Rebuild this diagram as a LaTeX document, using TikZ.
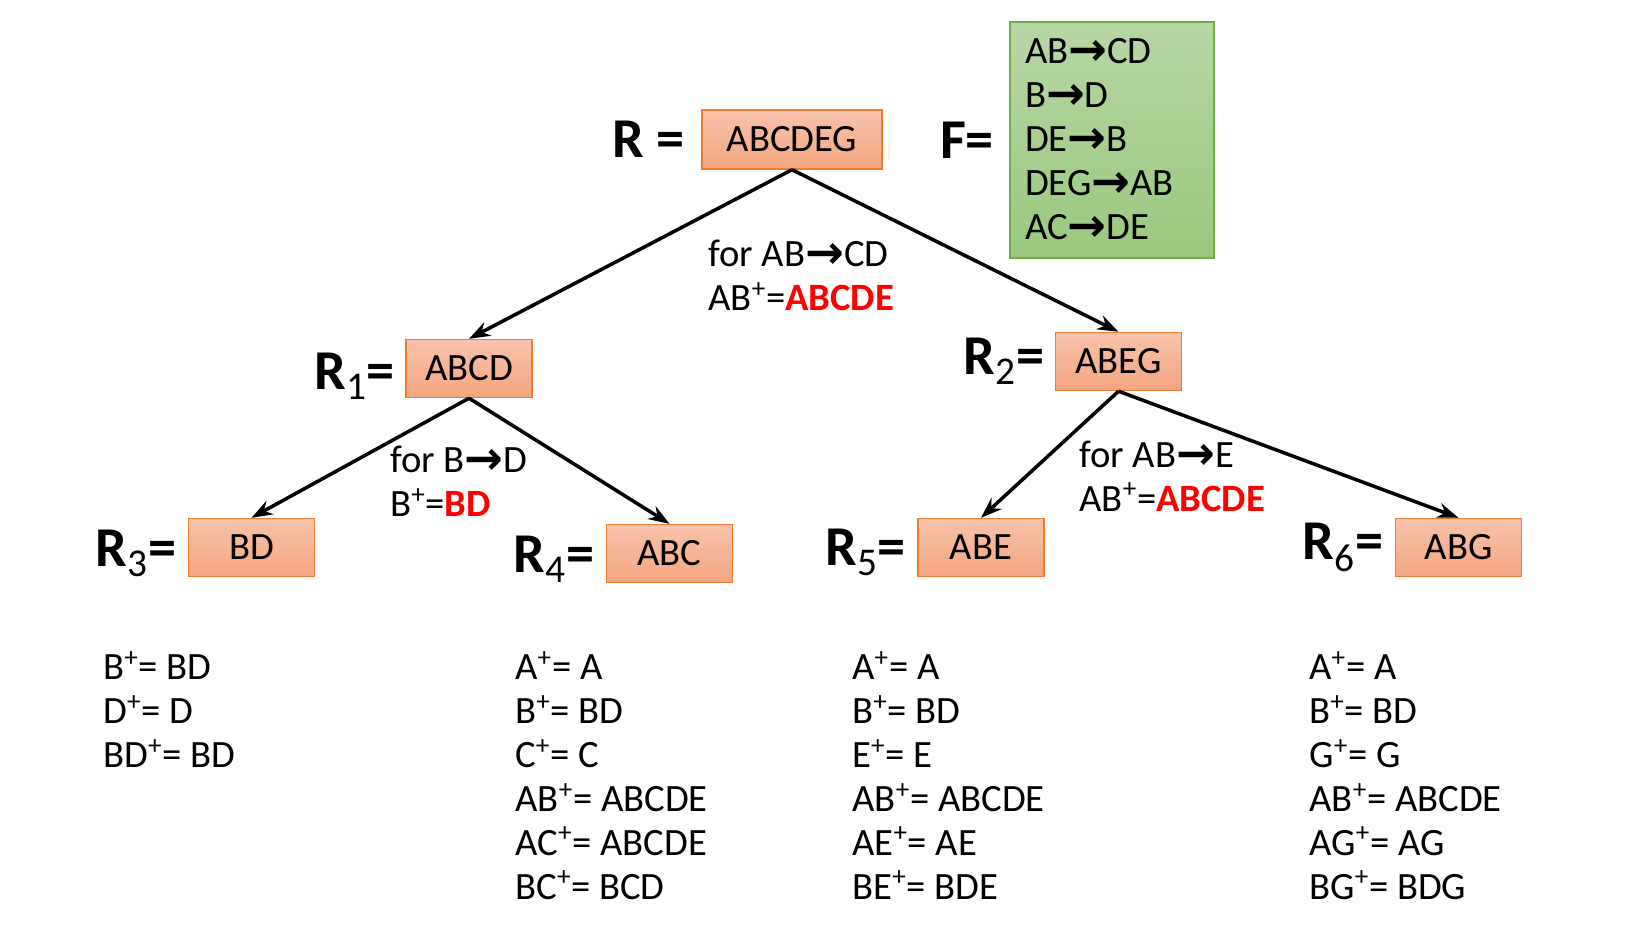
\documentclass[tikz,border=0pt]{standalone}
\usepackage{fontspec}
\setmainfont{Carlito}
\newfontfamily\arrowfont{DejaVu Sans}
\usepackage{xcolor}
\usepackage{graphicx}
\usepackage{tikz}
\usetikzlibrary{arrows.meta,positioning}
\definecolor{relTop}{RGB}{248,195,172}
\definecolor{relBot}{RGB}{244,165,128}
\definecolor{relLine}{RGB}{237,125,49}
\definecolor{fdTop}{RGB}{183,215,166}
\definecolor{fdBot}{RGB}{155,200,125}
\definecolor{fdLine}{RGB}{112,173,71}
\newcommand{\fdto}{\raisebox{-0.1ex}{\scalebox{1.2}{\arrowfont\bfseries →}}}
\newcommand{\clsr}[1]{#1\textsuperscript{+}}
\newcommand{\hit}[1]{\textcolor{red}{\bfseries #1}}

\begin{document}
\begin{tikzpicture}[
    rel/.style={draw=relLine, line width=0.8pt, top color=relTop, bottom color=relBot, minimum width=2.52cm, minimum height=1.16cm, inner sep=0pt, font=\fontsize{22}{25}\selectfont},
    fdbox/.style={draw=fdLine, line width=0.8pt, top color=fdTop, bottom color=fdBot, text width=3.48cm, minimum height=4.72cm, inner xsep=0.3cm, inner ysep=0pt, align=left, font=\fontsize{22}{25}\selectfont},
    rlabel/.style={font=\fontsize{32}{36}\selectfont\bfseries, inner sep=0pt},
    reason/.style={font=\fontsize{22}{25}\selectfont, align=left, inner sep=0pt, anchor=west},
    closures/.style={font=\fontsize{22}{25}\selectfont, align=left, inner sep=0pt, anchor=north west},
    decomp/.style={-{Stealth[length=0.42cm,width=0.3cm]}, line width=2pt}
]
\useasboundingbox (0,0) rectangle (32.86,-18.6);
\node[rel, minimum width=3.6cm, minimum height=1.18cm] (r) at (15.84,-2.79) {ABCDEG};
\node[rlabel, left=0.32cm of r] (rname) {R =};
\node[fdbox] (f) at (22.24,-2.8) {AB\fdto CD\\B\fdto D\\DE\fdto B\\DEG\fdto AB\\AC\fdto DE};
\node[rlabel, left=0.3cm of f] (fname) {F=};
\node[rel] (r1) at (9.38,-7.37) {ABCD};
\node[rel] (r2) at (22.37,-7.23) {ABEG};
\node[rel] (r3) at (5.03,-10.95) {BD};
\node[rel] (r4) at (13.39,-11.07) {ABC};
\node[rel] (r5) at (19.62,-10.95) {ABE};
\node[rel] (r6) at (29.17,-10.95) {ABG};
\node[rlabel, left=0.2cm of r1, yshift=-0.15cm] (r1name) {R\textsubscript{\mdseries 1}=};
\node[rlabel, left=0.2cm of r2] (r2name) {R\textsubscript{\mdseries 2}=};
\node[rlabel, left=0.22cm of r3, yshift=-0.12cm] (r3name) {R\textsubscript{\mdseries 3}=};
\node[rlabel, left=0.22cm of r4, yshift=-0.12cm] (r4name) {R\textsubscript{\mdseries 4}=};
\node[rlabel, left=0.22cm of r5, yshift=-0.1cm] (r5name) {R\textsubscript{\mdseries 5}=};
\node[rlabel, left=0.22cm of r6] (r6name) {R\textsubscript{\mdseries 6}=};
\draw[decomp] (r.south) -- (r1.north);
\draw[decomp] (r.south) -- (r2.north);
\draw[decomp] (r1.south) -- (r3.north);
\draw[decomp] (r1.south) -- (r4.north);
\draw[decomp] (r2.south) -- (r5.north);
\draw[decomp] (r2.south) -- (r6.north);
\node[reason] (why0) at (14.16,-5.51) {for AB\fdto CD\\\clsr{AB}=\hit{ABCDE}};
\node[reason] (why1) at (7.8,-9.63) {for B\fdto D\\\clsr{B}=\hit{BD}};
\node[reason] (why2) at (21.58,-9.52) {for AB\fdto E\\\clsr{AB}=\hit{ABCDE}};
\node[closures] (c3) at (2.06,-13.02) {\clsr{B}= BD\\\clsr{D}= D\\\clsr{BD}= BD};
\node[closures] (c4) at (10.30,-13.02) {\clsr{A}= A\\\clsr{B}= BD\\\clsr{C}= C\\\clsr{AB}= ABCDE\\\clsr{AC}= ABCDE\\\clsr{BC}= BCD};
\node[closures] (c5) at (17.04,-13.02) {\clsr{A}= A\\\clsr{B}= BD\\\clsr{E}= E\\\clsr{AB}= ABCDE\\\clsr{AE}= AE\\\clsr{BE}= BDE};
\node[closures] (c6) at (26.18,-13.02) {\clsr{A}= A\\\clsr{B}= BD\\\clsr{G}= G\\\clsr{AB}= ABCDE\\\clsr{AG}= AG\\\clsr{BG}= BDG};
\end{tikzpicture}
\end{document}
